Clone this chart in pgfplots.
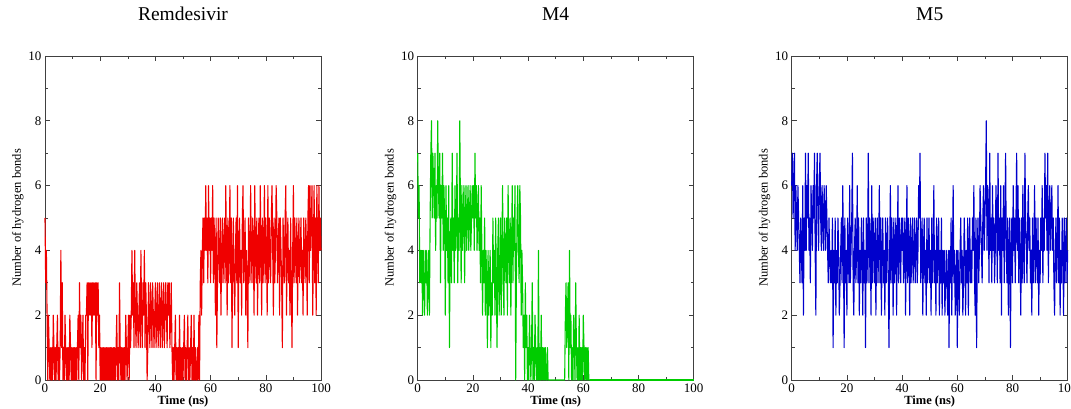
\documentclass[border=0pt]{standalone}
\usepackage{pgfplots}
\pgfplotsset{compat=1.18}
\usepackage{pgfplotstable}
\usepackage{fontspec}
\setmainfont{Liberation Serif}

\definecolor{hbred}{RGB}{240,0,0}
\definecolor{hbgreen}{RGB}{0,204,0}
\definecolor{hbblue}{RGB}{0,0,204}

% hydrogen bond counts, one value every 0.25 ns (each line = 5 ns)
\pgfplotstableread[header=false,row sep=\\]{
5\\3\\4\\2\\0\\2\\1\\0\\1\\0\\1\\0\\2\\1\\0\\1\\0\\1\\2\\0\\
1\\0\\1\\4\\1\\3\\0\\1\\0\\2\\1\\0\\1\\0\\1\\0\\2\\1\\0\\1\\
0\\1\\0\\1\\0\\1\\0\\1\\2\\0\\3\\1\\2\\0\\1\\2\\0\\1\\0\\2\\
2\\3\\0\\3\\2\\3\\2\\3\\1\\3\\2\\3\\2\\3\\0\\3\\2\\3\\1\\2\\
0\\1\\0\\1\\0\\1\\0\\1\\0\\1\\0\\1\\0\\1\\0\\1\\0\\1\\0\\1\\
0\\1\\0\\1\\2\\0\\1\\0\\3\\1\\0\\1\\0\\1\\0\\1\\0\\2\\1\\0\\
1\\2\\0\\2\\1\\2\\4\\2\\3\\1\\4\\2\\1\\3\\2\\1\\2\\3\\1\\4\\
2\\1\\3\\2\\4\\1\\3\\2\\0\\1\\3\\2\\1\\3\\2\\1\\3\\2\\1\\2\\
3\\1\\2\\3\\1\\2\\3\\1\\2\\3\\1\\2\\3\\1\\2\\3\\2\\1\\3\\2\\
3\\1\\2\\3\\1\\0\\1\\0\\1\\2\\0\\1\\0\\1\\0\\2\\0\\1\\0\\1\\
0\\1\\2\\0\\1\\0\\1\\2\\0\\1\\0\\1\\2\\0\\1\\0\\2\\0\\1\\0\\
0\\1\\0\\2\\0\\3\\4\\2\\4\\5\\3\\5\\4\\6\\4\\5\\3\\6\\4\\5\\
3\\5\\4\\6\\3\\5\\4\\2\\5\\1\\3\\5\\4\\3\\5\\2\\4\\5\\3\\4\\
5\\3\\6\\4\\2\\5\\3\\4\\6\\3\\5\\1\\4\\5\\3\\2\\4\\5\\3\\6\\
1\\4\\5\\3\\4\\2\\5\\6\\3\\4\\5\\2\\4\\3\\1\\5\\4\\3\\6\\4\\
3\\5\\4\\2\\6\\4\\3\\5\\2\\4\\5\\3\\6\\4\\2\\5\\3\\4\\6\\3\\
5\\4\\2\\6\\3\\5\\4\\3\\5\\6\\4\\2\\5\\3\\4\\6\\5\\3\\4\\5\\
2\\5\\4\\3\\1\\5\\4\\3\\5\\6\\2\\4\\5\\3\\4\\2\\5\\3\\1\\4\\
6\\3\\5\\4\\3\\5\\2\\4\\5\\3\\4\\5\\3\\4\\2\\5\\4\\3\\5\\4\\
2\\5\\6\\3\\6\\4\\5\\6\\2\\4\\6\\3\\5\\2\\6\\4\\3\\6\\4\\5\\
4\\
}\remdesivir

% M4: 0 to 62.5 ns; afterwards the count stays at 0
\pgfplotstableread[header=false,row sep=\\]{
7\\5\\6\\3\\4\\3\\4\\2\\4\\3\\2\\4\\3\\4\\2\\3\\4\\2\\5\\7\\
8\\5\\7\\6\\5\\7\\4\\6\\5\\8\\6\\5\\7\\3\\6\\5\\7\\4\\6\\5\\
2\\6\\4\\5\\3\\6\\1\\4\\5\\3\\7\\4\\5\\3\\6\\4\\5\\7\\3\\5\\
4\\8\\5\\3\\6\\4\\5\\6\\3\\5\\6\\4\\5\\6\\4\\5\\6\\4\\5\\6\\
5\\6\\4\\7\\5\\6\\4\\5\\6\\4\\5\\3\\6\\4\\2\\4\\3\\5\\2\\4\\
3\\1\\4\\2\\3\\4\\1\\3\\2\\5\\3\\4\\2\\5\\3\\1\\4\\5\\2\\3\\
5\\2\\4\\6\\3\\2\\5\\4\\3\\5\\2\\6\\4\\3\\5\\2\\4\\6\\3\\5\\
4\\6\\0\\3\\5\\6\\4\\3\\6\\5\\2\\4\\3\\1\\2\\0\\3\\1\\2\\0\\
1\\0\\2\\1\\0\\1\\3\\0\\1\\0\\2\\1\\0\\1\\0\\4\\0\\1\\0\\2\\
0\\1\\0\\1\\0\\1\\0\\0\\1\\0\\0\\0\\0\\0\\0\\0\\0\\0\\0\\0\\
0\\0\\0\\0\\0\\0\\0\\0\\0\\0\\0\\0\\0\\0\\2\\3\\1\\2\\3\\0\\
4\\1\\2\\0\\1\\0\\2\\1\\0\\3\\1\\0\\1\\0\\2\\0\\1\\0\\1\\0\\
2\\1\\0\\1\\0\\1\\0\\1\\0\\0\\0\\
}\mfour

\pgfplotstableread[header=false,row sep=\\]{
6\\7\\5\\6\\7\\4\\6\\5\\4\\6\\5\\4\\3\\5\\4\\3\\6\\2\\5\\4\\
7\\4\\6\\5\\7\\4\\5\\3\\6\\5\\4\\6\\5\\7\\4\\2\\6\\7\\5\\4\\
6\\7\\5\\4\\6\\5\\4\\6\\5\\4\\6\\5\\4\\3\\5\\4\\3\\4\\3\\5\\
1\\4\\3\\5\\2\\4\\3\\5\\4\\2\\3\\4\\5\\3\\6\\4\\1\\5\\3\\4\\
2\\5\\4\\3\\6\\3\\4\\5\\7\\3\\2\\4\\5\\3\\4\\6\\3\\5\\2\\4\\
3\\5\\4\\2\\5\\3\\4\\1\\5\\3\\4\\7\\3\\5\\4\\2\\6\\3\\5\\4\\
3\\5\\2\\4\\5\\3\\4\\6\\3\\5\\2\\4\\5\\3\\4\\2\\5\\3\\4\\5\\
3\\1\\4\\6\\3\\5\\4\\2\\5\\3\\4\\5\\2\\4\\6\\3\\5\\4\\3\\5\\
4\\5\\3\\4\\5\\2\\4\\6\\3\\5\\4\\2\\5\\3\\4\\5\\3\\4\\5\\3\\
4\\5\\3\\4\\6\\5\\7\\3\\4\\5\\2\\4\\5\\3\\4\\2\\5\\3\\4\\5\\
3\\4\\2\\5\\3\\4\\6\\3\\4\\2\\5\\3\\4\\5\\2\\4\\3\\5\\2\\4\\
3\\4\\2\\3\\4\\3\\2\\4\\1\\4\\3\\5\\2\\4\\6\\3\\4\\2\\3\\4\\
1\\4\\3\\2\\4\\5\\3\\4\\2\\3\\5\\4\\2\\4\\3\\5\\2\\4\\5\\3\\
4\\3\\5\\4\\6\\3\\2\\5\\1\\4\\5\\3\\4\\6\\5\\4\\3\\5\\6\\4\\
5\\6\\8\\4\\6\\5\\3\\7\\4\\5\\3\\6\\4\\5\\3\\4\\6\\5\\3\\7\\
4\\5\\3\\6\\2\\5\\4\\6\\3\\5\\7\\4\\3\\5\\2\\4\\5\\1\\4\\5\\
3\\6\\4\\5\\3\\5\\7\\4\\6\\3\\5\\4\\2\\5\\3\\6\\4\\3\\7\\5\\
4\\3\\5\\6\\4\\5\\3\\4\\2\\5\\3\\4\\6\\3\\5\\4\\3\\5\\2\\4\\
3\\5\\4\\6\\3\\5\\4\\7\\5\\6\\4\\7\\3\\5\\6\\4\\5\\6\\4\\5\\
3\\2\\4\\5\\3\\4\\6\\3\\5\\2\\4\\3\\5\\4\\2\\5\\3\\4\\5\\3\\
4\\
}\mfive

\pgfplotsset{
  hb/.style={
    scale only axis, width=276pt, height=324pt, anchor=south west,
    xmin=0, xmax=100, ymin=0, ymax=10,
    xtick={0,20,...,100}, ytick={0,2,...,10},
    minor x tick num=1, minor y tick num=1,
    tick align=inside, major tick length=5pt, minor tick length=3pt,
    axis line style={black!75, line width=0.6pt},
    every tick/.style={black!75, line width=0.6pt},
    tick label style={font=\fontsize{13}{15}\selectfont},
    /pgf/number format/assume math mode=true,
    xlabel={Time (ns)}, ylabel={Number of hydrogen bonds},
    xlabel style={font=\fontsize{12.5}{14}\selectfont\bfseries, yshift=3pt},
    ylabel style={font=\fontsize{12.5}{14}\selectfont, yshift=-2pt},
    title style={font=\fontsize{19.5}{22}\selectfont, at={(0.5,1)}, anchor=base, yshift=29pt},
    clip=false,
  },
  hbline/.style={line width=1.1pt, line join=round},
}

\begin{document}
\begin{tikzpicture}
\begin{axis}[hb, at={(45pt,29pt)}, title={Remdesivir}]
  \addplot[hbline, hbred] table[x expr=\coordindex*0.25, y index=0] {\remdesivir};
\end{axis}
\begin{axis}[hb, at={(417.7pt,29pt)}, title={M4}]
  \addplot[hbline, hbgreen] table[x expr=\coordindex*0.25, y index=0] {\mfour};
  \addplot[hbline, hbgreen] coordinates {(62.5,0) (100,0)};
\end{axis}
\begin{axis}[hb, at={(791.7pt,29pt)}, title={M5}]
  \addplot[hbline, hbblue] table[x expr=\coordindex*0.25, y index=0] {\mfive};
\end{axis}
\pgfresetboundingbox
\useasboundingbox (0,0) rectangle (1071pt,409pt);
\end{tikzpicture}
\end{document}
